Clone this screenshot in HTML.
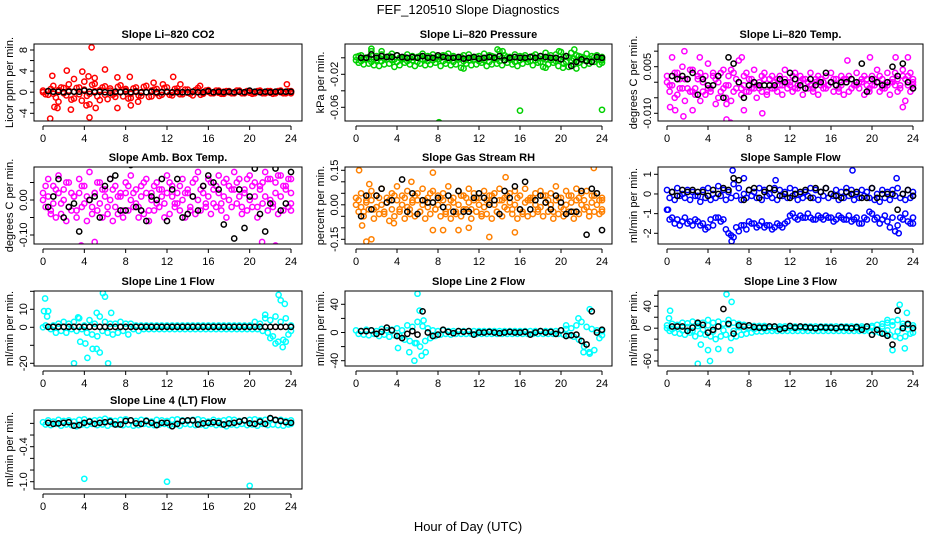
<!DOCTYPE html>
<html><head><meta charset="utf-8"><style>
html,body{margin:0;padding:0;background:#fff}
svg{display:block;font-family:"Liberation Sans",Arial,sans-serif}
</style></head><body>
<svg id="chart" width="936" height="540" viewBox="0 0 936 540">
<text x="468" y="14" text-anchor="middle" font-size="13">FEF_120510  Slope Diagnostics</text>
<text x="468" y="531" text-anchor="middle" font-size="13">Hour of Day (UTC)</text>
</svg>
<script>
const hours=[0,0.5,1,1.5,2,2.5,3,3.5,4,4.5,5,5.5,6,6.5,7,7.5,8,8.5,9,9.5,10,10.5,11,11.5,12,12.5,13,13.5,14,14.5,15,15.5,16,16.5,17,17.5,18,18.5,19,19.5,20,20.5,21,21.5,22,22.5,23,23.5,24];
const xTicks=[0,4,8,12,16,20,24];

// Panel 1: CO2
const co2A=[0.3,-0.5,1.2,-1.8,0.8,1.5,-1.2,0.9,2.0,-2.3,1.6,-1.5,1.1,0.7,-0.9,1.3,0.6,-1.1,0.9,-0.7,1.2,-0.8,0.6,-0.5,0.9,-0.6,0.7,-0.4,0.5,-0.6,0.8,-0.3,0.4,-0.2,0.3,-0.3,0.2,-0.2,0.3,-0.2,0.2,-0.2,0.3,-0.2,0.2,-0.2,0.3,-0.2,0.2];
const co2B=[-0.4,0.6,-1.0,0.9,-0.6,-1.4,0.8,-1.6,-0.7,1.4,-0.8,0.9,-1.3,-0.5,1.0,-0.8,-1.2,0.7,-0.6,1.0,-0.9,0.5,-0.7,0.8,-0.5,0.6,-0.4,0.5,-0.3,0.4,-0.5,0.3,-0.2,0.3,-0.3,0.2,-0.2,0.3,-0.2,0.2,-0.3,0.2,-0.2,0.2,-0.3,0.2,-0.2,0.2,-0.2];
const co2C=[0.0,0.2,-0.3,0.4,-0.2,0.3,0.1,-0.4,0.5,-0.3,0.2,0.4,-0.5,0.3,-0.2,0.1,0.3,-0.3,0.2,-0.1,0.0,0.3,-0.2,0.1,0.0,-0.1,0.2,0.0,-0.1,0.1,0.0,-0.1,0.1,0.0,-0.1,0.1,0.0,-0.1,0.1,0.0,-0.1,0.0,0.1,0.0,-0.1,0.1,0.0,0.0,0.1];
const co2K=[0.2,0.1,0.1,0.0,0.1,0.1,0.1,0.3,0.1,0.0,0.1,0.0,-0.1,0.1,0.0,0.1,0.0,0.1,0.0,0.0,0.1,0.0,0.0,0.1,0.0,0.0,0.0,0.0,0.1,0.0,0.0,0.2,0.0,0.1,0.0,0.1,0.0,0.1,0.0,0.3,0.1,0.0,0.1,0.0,0.1,0.1,0.1,0.1];
const co2OutX=[0.7,0.9,2.3,3.8,4.7,4.5,6.0,4.4,2.7,1.4,7.2,7.2,8.4,12.6,23.6,5.1,1.1,4.2,3,5,8.5,10.7,11.6,13.3,15.2,9.2];
const co2OutY=[-5,3.1,4.1,3.9,8.5,-4.8,4.3,3.0,-3.3,-3,-3,2.8,2.9,2.9,1.5,-3,-2.8,-2.5,2.5,2.7,-2.5,1.8,1.5,1.5,1.2,-1.8];
const co2Ticks=[-4,-2,0,2,4,6,8];
const co2Labels=["-4","0","4","8"];

// Panel 2: Pressure
const presA=[0.001,0.003,0.000,0.008,0.002,0.004,0.001,0.005,0.003,0.000,0.004,0.002,0.001,0.005,0.002,0.004,0.001,0.003,0.005,0.002,0.000,0.003,0.004,0.001,0.002,0.005,0.003,0.001,0.008,0.003,0.001,0.004,0.002,0.003,0.001,0.004,0.002,0.006,0.003,0.004,0.007,0.002,0.006,0.003,0.001,0.005,0.002,0.003,0.001];
const presB=[-0.006,-0.008,-0.007,-0.009,-0.010,-0.008,-0.007,-0.011,-0.009,-0.006,-0.008,-0.010,-0.007,-0.009,-0.008,-0.006,-0.010,-0.007,-0.009,-0.008,-0.012,-0.007,-0.009,-0.008,-0.006,-0.010,-0.008,-0.007,-0.009,-0.006,-0.008,-0.010,-0.007,-0.005,-0.009,-0.006,-0.011,-0.008,-0.006,-0.010,-0.007,-0.011,-0.008,-0.006,-0.009,-0.007,-0.005,-0.008,-0.006];
const presC=[-0.003,-0.004,-0.002,-0.005,-0.003,-0.004,-0.002,-0.003,-0.005,-0.002,-0.004,-0.003,-0.005,-0.002,-0.004,-0.003,-0.002,-0.004,-0.003,-0.005,-0.002,-0.004,-0.003,-0.002,-0.004,-0.003,-0.005,-0.002,-0.004,-0.003,-0.002,-0.005,-0.003,-0.002,-0.004,-0.003,-0.005,-0.002,-0.003,-0.004,-0.002,-0.005,-0.003,-0.004,-0.002,-0.003,-0.004,-0.002,-0.003];
const presD=[0.002,-0.001,0.001,-0.002,0.000,-0.001,0.002,-0.002,0.000,0.001,-0.001,0.000,0.002,-0.002,0.001,-0.001,0.000,0.002,-0.001,0.000,0.001,-0.002,0.000,0.001,-0.001,0.000,0.002,-0.001,0.000,0.001,-0.002,0.000,0.001,-0.001,0.002,0.000,-0.001,0.001,0.000,-0.002,0.001,0.000,-0.001,0.002,0.000,-0.001,0.001,0.000,-0.002];
const presK=[0.000,0.000,0.004,0.000,0.002,0.001,0.001,0.003,0.001,0.000,0.001,0.000,0.002,0.000,0.000,0.003,0.001,0.000,0.000,0.001,-0.001,0.000,0.001,-0.001,0.000,0.001,0.000,0.002,-0.003,0.000,0.001,0.000,0.000,0.001,0.000,0.002,0.001,0.000,0.000,-0.002,0.002,-0.010,-0.005,-0.002,-0.004,-0.005,0.001,0.000];
const presOutX=[8.1,16,24,1.5,13.8,14.3,10.5,21.5,18.5,20.2,2.5,19.8,21.3];
const presOutY=[-0.078,-0.064,-0.063,0.011,0.010,0.008,-0.013,-0.013,-0.012,-0.012,0.008,0.008,0.010];
const presTicks=[-0.06,-0.04,-0.02,0];
const presLabels=["-0.06","-0.02"];

// Panel 3: Li-820 Temp
const tempA=[0.000,0.002,-0.004,0.005,-0.002,0.004,0.001,-0.003,0.006,0.002,-0.005,0.004,-0.001,0.003,0.007,0.002,-0.003,0.004,-0.002,0.003,0.001,-0.002,0.002,0.004,-0.001,0.003,0.002,-0.002,0.003,0.001,-0.001,0.002,0.003,-0.001,0.002,0.001,-0.002,0.003,0.001,-0.001,0.002,0.004,-0.002,0.003,0.001,-0.003,0.004,0.002,0.001];
const tempB=[-0.003,-0.005,0.001,-0.006,-0.003,-0.002,-0.006,-0.004,-0.002,-0.007,-0.003,-0.005,-0.006,-0.002,-0.004,-0.003,-0.002,-0.005,-0.003,-0.004,-0.002,-0.003,-0.004,-0.002,-0.003,-0.001,-0.004,-0.002,-0.003,-0.004,-0.002,-0.001,-0.003,-0.002,-0.004,-0.003,-0.001,-0.002,-0.004,-0.002,-0.001,-0.003,-0.002,-0.004,-0.001,-0.002,-0.006,-0.003,-0.002];
const tempC=[0.002,-0.001,0.003,-0.002,0.001,-0.003,0.002,0.000,-0.002,0.003,0.000,-0.002,0.002,-0.003,0.000,-0.001,0.001,-0.002,0.000,0.001,-0.001,0.000,-0.001,0.001,0.000,-0.002,0.000,0.001,-0.001,0.000,0.001,-0.002,0.000,0.001,-0.001,0.000,0.001,-0.001,0.000,0.001,-0.001,0.000,0.001,-0.001,0.000,0.001,0.002,-0.001,0.000];
const tempD=[-0.001,0.003,-0.002,0.001,0.004,-0.004,0.003,0.002,-0.003,0.001,0.003,-0.001,0.004,0.001,-0.002,0.003,0.001,-0.001,0.002,-0.003,0.002,0.001,-0.001,0.000,0.002,-0.002,0.001,0.000,-0.002,0.002,0.000,-0.001,0.001,-0.003,0.001,0.002,-0.001,0.000,0.002,-0.003,0.001,0.002,-0.001,0.000,0.003,-0.001,0.001,0.003,-0.001];
const tempK=[0.002,0.001,0.002,0.001,0.003,-0.004,0.001,-0.001,-0.001,0.002,-0.005,0.008,0.006,0.000,-0.005,-0.001,0.000,-0.001,-0.001,-0.001,-0.001,0.001,0.000,0.003,0.001,-0.001,-0.002,0.001,-0.001,0.000,0.003,0.000,-0.001,0.000,0.000,0.001,0.000,0.006,-0.003,0.001,0.000,-0.001,0.000,0.005,0.002,0.006,0.000,-0.002];
const tempOutX=[1.6,1.7,0.3,0.8,5.8,6.2,9.3,3.2,0.5,7.3,17.6,19.8,22.3,23.5,23,5.8,7.5,2.5];
const tempOutY=[-0.011,0.010,-0.008,-0.009,-0.012,-0.013,-0.010,0.008,0.008,0.008,0.007,0.008,0.008,0.008,-0.008,-0.007,-0.009,-0.009];
const tempTicks=[-0.010,-0.005,0,0.005,0.010];
const tempLabels=["-0.010","0.005"];

// Panel 4: Amb. Box Temp
const ambA=[0.02,0.06,0.04,0.07,0.03,0.05,0.01,0.06,0.04,0.08,0.02,0.05,0.03,0.06,0.04,0.02,0.05,0.07,0.03,0.04,0.06,0.02,0.05,0.03,0.07,0.04,0.02,0.06,0.03,0.05,0.08,0.04,0.06,0.03,0.07,0.05,0.04,0.08,0.06,0.03,0.07,0.05,0.04,0.08,0.06,0.05,0.07,0.04,0.06];
const ambB=[-0.02,-0.04,-0.05,-0.01,-0.06,-0.03,-0.05,-0.02,-0.06,-0.04,-0.03,-0.05,-0.02,-0.06,-0.04,-0.05,-0.03,-0.02,-0.05,-0.04,-0.06,-0.03,-0.02,-0.05,-0.04,-0.01,-0.03,-0.05,-0.02,-0.04,-0.03,-0.01,-0.04,-0.02,-0.03,-0.05,-0.02,-0.01,-0.04,-0.03,-0.02,-0.05,-0.01,-0.03,-0.02,-0.04,-0.03,-0.02,-0.03];
const ambC=[0.00,0.01,-0.01,0.02,0.00,-0.02,0.01,0.02,-0.01,0.00,0.02,-0.01,0.01,0.00,-0.02,0.01,0.02,0.00,-0.01,0.01,0.02,0.00,-0.01,0.01,0.02,0.01,-0.01,0.00,0.02,0.01,0.00,0.02,0.01,-0.01,0.02,0.01,0.00,0.03,0.01,0.02,0.00,0.01,0.03,0.01,0.00,0.02,0.01,0.03,0.02];
const ambD=[0.04,-0.03,0.03,-0.04,0.05,0.02,-0.03,0.04,0.01,-0.02,0.05,0.03,-0.04,0.03,0.01,-0.03,0.04,0.02,-0.02,0.05,-0.03,0.04,0.03,-0.01,0.05,-0.02,0.04,0.02,-0.03,0.06,0.03,-0.02,0.05,0.04,-0.01,0.06,0.03,0.05,-0.02,0.06,0.04,-0.02,0.05,0.06,-0.01,0.07,0.04,0.06,-0.01];
const ambK=[-0.02,0.01,0.06,-0.05,-0.02,-0.01,-0.09,0.11,0.00,0.01,-0.05,0.04,0.06,0.07,-0.03,-0.03,0.10,-0.02,-0.03,-0.06,0.01,0.00,0.06,-0.06,0.03,0.06,-0.05,-0.04,0.01,-0.03,0.04,0.07,0.05,0.03,-0.07,0.12,-0.11,0.03,-0.08,0.01,0.09,-0.04,-0.09,-0.01,0.09,-0.03,-0.01,0.08];
const ambOutX=[11.2,9.8,8.8,6.6,3.7,22.5,23.3,18.6,13.5,5,21.2];
const ambOutY=[-0.24,-0.17,-0.14,-0.15,-0.13,-0.13,0.17,-0.16,-0.17,-0.12,-0.12];
const ambTicks=[-0.10,-0.05,0,0.05];
const ambLabels=["-0.10","0.00"];

// Panel 5: Gas Stream RH
const rhA=[0.03,0.05,0.02,0.06,0.04,0.07,0.03,0.05,0.08,0.04,0.06,0.02,0.05,0.07,0.03,0.06,0.04,0.05,0.08,0.03,0.06,0.04,0.07,0.05,0.03,0.06,0.04,0.05,0.07,0.03,0.05,0.06,0.04,0.07,0.03,0.05,0.06,0.04,0.05,0.08,0.03,0.06,0.04,0.07,0.05,0.06,0.04,0.05,0.03];
const rhB=[-0.03,-0.05,-0.02,-0.06,-0.04,-0.03,-0.07,-0.05,-0.02,-0.06,-0.04,-0.05,-0.03,-0.06,-0.04,-0.02,-0.05,-0.03,-0.06,-0.04,-0.05,-0.02,-0.06,-0.03,-0.05,-0.04,-0.06,-0.03,-0.05,-0.02,-0.04,-0.06,-0.03,-0.05,-0.04,-0.02,-0.05,-0.03,-0.06,-0.04,-0.05,-0.03,-0.06,-0.04,-0.02,-0.05,-0.03,-0.04,-0.02];
const rhC=[0.00,-0.01,0.01,0.02,-0.01,0.00,0.01,-0.02,0.02,0.00,-0.01,0.01,0.02,0.00,-0.01,0.01,0.00,0.02,-0.01,0.01,0.00,-0.02,0.01,0.02,0.00,-0.01,0.01,0.00,0.02,-0.01,0.01,0.00,-0.02,0.01,0.02,0.00,-0.01,0.01,0.00,0.02,-0.01,0.00,0.01,0.02,0.00,-0.01,0.01,0.00,0.02];
const rhD=[0.02,-0.03,0.04,-0.02,0.03,-0.04,0.02,0.04,-0.03,0.03,-0.02,0.04,-0.03,0.02,0.05,-0.02,0.03,-0.04,0.02,-0.03,0.04,0.03,-0.02,0.03,-0.04,0.02,0.04,-0.03,0.02,0.04,-0.02,0.03,-0.04,0.02,0.03,-0.03,0.04,0.02,-0.03,0.03,-0.02,0.04,-0.03,0.03,0.02,-0.03,0.04,0.02,-0.03];
const rhK=[-0.05,0.04,-0.02,0.04,0.07,0.01,0.02,-0.21,0.11,-0.03,0.05,-0.04,0.02,0.01,0.01,0.03,-0.01,0.04,-0.03,0.06,-0.03,-0.03,0.03,0.05,0.03,0.00,0.02,-0.04,0.06,0.03,0.08,-0.02,0.10,-0.02,0.02,0.04,0.01,-0.02,0.04,0.01,-0.04,-0.03,-0.03,0.06,-0.13,0.07,0.05,-0.11];
const rhOutX=[0.3,1.0,1.5,7.5,7.5,8.5,10,11,13,15.5,23.2,14.6,3.7,0.6,1.3,5.4];
const rhOutY=[0.15,-0.16,-0.15,0.14,-0.11,-0.11,-0.11,-0.10,-0.14,-0.12,0.16,0.12,-0.08,-0.09,0.09,0.10];
const rhTicks=[-0.15,-0.10,-0.05,0,0.05,0.10,0.15];
const rhLabels=["-0.15","0.00","0.15"];

// Panel 6: Sample Flow
const sfA=[0.2,0.1,0.3,0.0,0.2,0.1,-0.1,0.2,0.3,0.0,0.4,0.2,0.1,0.5,0.3,0.0,0.2,0.1,0.3,0.2,0.0,0.3,0.2,0.1,0.3,0.2,0.0,0.1,0.3,0.2,0.1,0.3,0.0,0.2,0.1,0.3,0.2,0.0,0.2,0.1,0.3,0.0,0.2,0.1,0.2,0.3,0.0,0.2,0.1];
const sfB=[-0.2,-0.3,-0.1,-0.2,-0.3,-0.1,-0.4,-0.2,-0.3,-0.2,-0.1,-0.3,-0.2,-0.1,-0.3,-0.2,-0.1,-0.2,-0.3,-0.1,-0.2,-0.3,-0.1,-0.2,-0.1,-0.3,-0.2,-0.1,-0.2,-0.3,-0.1,-0.2,-0.1,-0.3,-0.2,-0.1,-0.3,-0.2,-0.1,-0.2,-0.3,-0.4,-0.2,-0.3,-0.1,-0.2,-0.3,-0.2,-0.1];
const sfC=[-0.8,-1.2,-1.3,-1.4,-1.5,-1.6,-1.4,-1.5,-1.7,-1.6,-1.2,-1.3,-2.0,-2.2,-1.9,-1.6,-1.4,-1.5,-1.6,-1.7,-1.6,-1.7,-1.6,-1.5,-1.1,-1.2,-1.1,-1.2,-1.2,-1.3,-1.2,-1.1,-1.2,-1.3,-1.2,-1.3,-1.4,-1.2,-1.5,-1.3,-1.0,-1.2,-1.3,-1.4,-1.2,-1.6,-1.3,-1.4,-1.5];
const sfD=[-1.3,-1.5,-1.6,-1.2,-1.4,-1.3,-1.6,-1.8,-1.3,-1.2,-1.4,-1.8,-2.1,-1.7,-1.6,-1.8,-1.5,-1.7,-1.4,-1.6,-1.8,-1.5,-1.7,-1.4,-1.0,-1.3,-1.2,-1.0,-1.3,-1.1,-1.3,-1.2,-1.4,-1.1,-1.3,-1.1,-1.3,-1.5,-1.2,-0.9,-1.3,-1.5,-1.1,-1.7,-1.9,-1.2,-1.0,-1.5,-1.2];
const sfK=[0.1,-0.1,0.2,0.1,0.2,0.1,0.1,-0.1,0.2,0.0,0.3,0.2,0.8,0.7,-0.3,0.2,0.3,-0.2,0.1,0.3,0.2,-0.1,0.0,-0.2,0.0,0.1,0.2,-0.2,0.3,0.1,0.3,0.0,-0.1,-0.2,0.1,0.0,0.1,-0.2,-0.2,0.3,-0.2,0.0,0.0,0.0,-0.8,0.0,0.2,-0.1];
const sfOutX=[6.4,18.1,6.3,22.6,0.1,7.5,10.6,22.4];
const sfOutY=[1.2,1.2,-2.4,-2.0,-0.8,0.8,0.7,0.8];
const sfTicks=[-2,-1,0,1];
const sfLabels=["-2","-1","0","1"];

// Panel 7: Line 1 Flow
const l1A=[0,9,1,2,3,2,3,5,1,4,2,6,3,2,2,3,2,2,1,1,1,1,1,1,1,1,1,1,1,1,1,1,1,1,1,1,1,1,1,1,1,3,2,5,4,6,3,5,1];
const l1B=[1,-1,-3,-2,-3,-1,-2,-1,-3,-4,-5,-2,-3,-4,-3,-2,-4,-1,-2,-1,-1,-1,-1,-1,-1,-1,-1,-1,-1,-1,-1,-1,-1,-1,-1,-1,-1,-1,-1,-1,-1,-1,-2,-3,-5,-8,-7,-4,-2];
const l1K=[0.2,0.2,0.2,0.2,0.2,0.2,0.2,0.2,0.2,0.2,0.2,0.2,0.2,0.2,0.2,0.2,0.2,0.2,0.2,0.2,0.2,0.2,0.2,0.2,0.2,0.2,0.2,0.2,0.2,0.2,0.2,0.2,0.2,0.2,0.2,0.2,0.2,0.2,0.2,0.2,0.2,0.2,0.2,0.2,0.2,0.2,0.2,0.2];
const l1OutX=[0.2,0.1,0.4,3,3.4,3.6,4.1,4.3,4.8,5.2,5.5,5.8,6,6.3,6.6,5.2,22.8,23,23.4,23.2,22.5,23.5,21.5,22];
const l1OutY=[16,9,6,-20,5.5,-8,-9,-17,-12,-12,-14,19,17,-20,8,8,18,15,13,-11,-9,-8,7,-6];
const l1Ticks=[-20,-10,0,10,20];
const l1Labels=["-20","0","10"];

// Panel 8: Line 2 Flow
const l2A=[3,2,4,3,2,5,3,4,6,3,10,8,15,9,6,3,2,3,2,2,2,2,2,2,2,2,2,2,2,2,2,2,2,2,2,2,2,2,2,2,3,5,6,10,15,8,5,3,2];
const l2B=[-2,-3,-4,-2,-5,-3,-6,-4,-5,-10,-12,-15,-20,-12,-8,-5,-3,-2,-3,-2,-2,-2,-2,-2,-2,-2,-2,-2,-2,-2,-2,-2,-2,-2,-2,-2,-2,-2,-2,-2,-3,-4,-6,-10,-20,-28,-25,-8,-4];
const l2K=[2,2,3,-2,1,7,3,-5,-8,-2,2,-3,30,0,-5,-3,4,1,-1,2,1,2,-3,0,0,1,0,-1,0,1,0,0,1,-3,0,2,0,1,-2,3,-5,-4,-3,-12,-17,30,0,4];
const l2OutX=[6,6.2,6.6,6.8,5.7,4.1,5.2,5.9,6.4,21.7,22.8,22.2,22.8,20.5];
const l2OutY=[55,31,17,-28,-40,-22,-28,-15,-33,20,33,-28,-30,10];
const l2Ticks=[-40,-20,0,20,40];
const l2Labels=["-40","0","40"];

// Panel 9: Line 3 Flow
const l3A=[5,8,6,10,9,12,8,10,15,10,12,8,15,10,8,6,5,4,4,4,3,3,3,3,3,3,3,3,3,3,3,3,3,3,3,3,3,3,3,3,4,6,8,10,12,15,8,6,5];
const l3B=[-5,-8,-10,-12,-8,-15,-10,-12,-15,-20,-15,-12,-18,-15,-12,-10,-8,-6,-6,-5,-5,-5,-5,-5,-5,-5,-5,-5,-5,-5,-5,-5,-5,-5,-5,-5,-5,-5,-5,-5,-6,-8,-10,-12,-15,-18,-15,-10,-8];
const l3C=[0,-2,3,-4,2,-5,4,-3,5,-6,3,-4,6,-5,2,-3,1,-2,0,-1,0,-1,0,-1,0,-1,0,-1,0,-1,0,-1,0,-1,0,-1,0,-1,0,-1,1,-2,3,-4,5,-6,3,-2,1];
const l3K=[3,3,3,-5,1,10,6,-8,-3,3,35,8,-10,5,3,5,2,1,1,3,3,-2,0,4,1,3,2,1,0,2,1,1,0,2,1,0,2,-3,3,-12,-3,-10,-14,-30,32,0,8,0];
const l3OutX=[0.3,0.2,3,4.2,4,5.8,6.3,6.2,5,3.3,22.7,23.4,23.2,22,21.5];
const l3OutY=[32,18,-65,-60,-40,62,48,-40,-38,-30,43,28,-37,-40,15];
const l3Ticks=[-60,-40,-20,0,20,40,60];
const l3Labels=["-60","0","40"];

// Panel 10: Line 4 (LT) Flow
const l4A=[0.02,0.05,0.03,0.06,0.04,0.05,0.03,0.06,0.07,0.04,0.05,0.06,0.08,0.05,0.04,0.06,0.07,0.05,0.04,0.06,0.05,0.03,0.06,0.05,0.04,0.06,0.07,0.05,0.04,0.06,0.07,0.05,0.03,0.06,0.04,0.05,0.07,0.06,0.04,0.05,0.06,0.07,0.05,0.06,0.08,0.05,0.06,0.04,0.05];
const l4B=[-0.02,-0.03,-0.01,-0.04,-0.02,-0.03,-0.05,-0.02,-0.03,-0.01,-0.03,-0.02,-0.04,-0.01,-0.02,-0.03,-0.02,-0.04,-0.03,-0.01,-0.02,-0.03,-0.02,-0.01,-0.03,-0.02,-0.04,-0.01,-0.02,-0.03,-0.02,-0.04,-0.01,-0.03,-0.02,-0.05,-0.02,-0.03,-0.01,-0.03,-0.02,-0.04,-0.01,-0.03,-0.02,-0.03,-0.04,-0.02,-0.01];
const l4K=[0.01,-0.01,0.00,0.01,0.02,-0.04,-0.03,0.01,0.03,-0.01,0.01,0.02,0.03,-0.02,-0.02,0.04,0.05,0.00,-0.01,0.04,0.01,-0.03,0.01,0.01,-0.05,-0.01,0.04,0.05,0.05,-0.02,0.00,0.01,0.02,0.01,-0.02,0.00,0.01,0.03,0.05,0.00,-0.01,0.03,-0.01,0.09,0.06,0.04,0.02,0.01];
const l4OutX=[4,12,20];
const l4OutY=[-0.95,-1.0,-1.07];
const l4Ticks=[-1.0,-0.8,-0.6,-0.4,-0.2,0];
const l4Labels=["-1.0","-0.4"];

const cols=[{l:34,r:302,x0:43,x1:291},{l:345,r:612,x0:356,x1:602},{l:658,r:923,x0:667,x1:913}];
const rows=[{t:44,b:121},{t:167,b:244},{t:291,b:366},{t:410,b:489}];

const panels=[
 {id:'co2',title:'Slope Li\u2013820 CO2',ylab:'Licor ppm per min.',c:0,r:0,color:'#ff0000',series:[co2A,co2B,co2C],k:co2K,ox:co2OutX,oy:co2OutY,ticks:co2Ticks,labels:co2Labels,cal:[8,50,-4,113.3]},
 {id:'pressure',title:'Slope Li\u2013820 Pressure',ylab:'kPa per min.',c:1,r:0,color:'#00d000',series:[presA,presB,presC,presD],k:presK,ox:presOutX,oy:presOutY,ticks:presTicks,labels:presLabels,cal:[-0.02,74.3,-0.06,107.3]},
 {id:'temp',title:'Slope Li\u2013820 Temp.',ylab:'degrees C per min.',c:2,r:0,color:'#ff00ff',series:[tempA,tempB,tempC,tempD],k:tempK,ox:tempOutX,oy:tempOutY,ticks:tempTicks,labels:tempLabels,cal:[0.005,66.7,-0.010,113.3]},
 {id:'amb-temp',title:'Slope Amb. Box Temp.',ylab:'degrees C per min.',c:0,r:1,color:'#ff00ff',series:[ambA,ambB,ambC,ambD],k:ambK,ox:ambOutX,oy:ambOutY,ticks:ambTicks,labels:ambLabels,cal:[0,200,-0.10,235]},
 {id:'rh',title:'Slope Gas Stream RH',ylab:'percent per min.',c:1,r:1,color:'#ff8000',series:[rhA,rhB,rhC,rhD],k:rhK,ox:rhOutX,oy:rhOutY,ticks:rhTicks,labels:rhLabels,cal:[0.15,170.3,-0.15,239.3]},
 {id:'sample-flow',title:'Slope Sample Flow',ylab:'ml/min per min.',c:2,r:1,color:'#0000ff',series:[sfA,sfB,sfC,sfD],k:sfK,ox:sfOutX,oy:sfOutY,ticks:sfTicks,labels:sfLabels,cal:[1,174.3,-2,233.3]},
 {id:'line1-flow',title:'Slope Line 1 Flow',ylab:'ml/min per min.',c:0,r:2,color:'#00ffff',series:[l1A,l1B],k:l1K,ox:l1OutX,oy:l1OutY,ticks:l1Ticks,labels:l1Labels,cal:[10,309.3,-20,363.3]},
 {id:'line2-flow',title:'Slope Line 2 Flow',ylab:'ml/min per min.',c:1,r:2,color:'#00ffff',series:[l2A,l2B],k:l2K,ox:l2OutX,oy:l2OutY,ticks:l2Ticks,labels:l2Labels,cal:[40,304.3,-40,360.7]},
 {id:'line3-flow',title:'Slope Line 3 Flow',ylab:'ml/min per min.',c:2,r:2,color:'#00ffff',series:[l3A,l3B,l3C],k:l3K,ox:l3OutX,oy:l3OutY,ticks:l3Ticks,labels:l3Labels,cal:[40,306.3,-60,361]},
 {id:'line4-flow',title:'Slope Line 4 (LT) Flow',ylab:'ml/min per min.',c:0,r:3,color:'#00ffff',series:[l4A,l4B],k:l4K,ox:l4OutX,oy:l4OutY,ticks:l4Ticks,labels:l4Labels,cal:[-0.4,446.7,-1.0,481.7]}
];

const NS='http://www.w3.org/2000/svg';
const svg=document.getElementById('chart');
function mk(tag,attrs,parent){const e=document.createElementNS(NS,tag);for(const k in attrs)e.setAttribute(k,attrs[k]);(parent||svg).appendChild(e);return e;}
function fmt(v,labels){for(const s of labels){if(Math.abs(parseFloat(s)-v)<1e-9)return s;}return null;}

panels.forEach(p=>{
  const C=cols[p.c],R=rows[p.r];
  const xs=h=>C.x0+(h/24)*(C.x1-C.x0);
  const [v1,p1,v2,p2]=p.cal;
  const ys=v=>p1+(v-v1)*(p2-p1)/(v2-v1);
  const g=mk('g',{});
  
  
  const cp=mk('clipPath',{id:'clip-'+p.id},g);
  mk('rect',{x:C.l,y:R.t,width:C.r-C.l,height:R.b-R.t},cp);
  const title=mk('text',{x:(C.l+C.r)/2,y:R.t-6,'text-anchor':'middle','font-size':'11','font-weight':'bold'},g);
  title.textContent=p.title;
  
  
  const pts=mk('g',{'clip-path':'url(#clip-'+p.id+')'},g);
  
  
  const dot=(h,v,col)=>{const c=mk('circle',{cx:xs(h).toFixed(1),cy:ys(v).toFixed(1),r:2.6,fill:'none',stroke:col,'stroke-width':1.5},pts);
    
    };
  p.series.forEach((s,si)=>s.forEach((v,i)=>dot(Math.min(24,hours[i]+(si%2)*0.25),v,p.color)));
  p.ox.forEach((h,i)=>dot(h,p.oy[i],p.color));
  p.k.forEach((v,i)=>dot(hours[i+1],v,'#000'));
  const box=mk('rect',{x:C.l,y:R.t,width:C.r-C.l,height:R.b-R.t,fill:'none',stroke:'#000','stroke-width':1},g);
  
  
  const xa=mk('g',{},g);
  
  
  const ay=R.b+5;
  mk('line',{x1:xs(0),x2:xs(24),y1:ay,y2:ay,stroke:'#000'},xa);
  xTicks.forEach(t=>{mk('line',{x1:xs(t),x2:xs(t),y1:ay,y2:ay+4,stroke:'#000'},xa);
    const tx=mk('text',{x:xs(t),y:ay+16,'text-anchor':'middle','font-size':'11'},xa);tx.textContent=String(t);});
  const ya=mk('g',{},g);
  
  
  const lo=Math.min(...p.ticks),hi=Math.max(...p.ticks);
  mk('line',{x1:C.l,x2:C.l,y1:ys(lo),y2:ys(hi),stroke:'#000'},ya);
  p.ticks.forEach(t=>{const y=ys(t);mk('line',{x1:C.l-4,x2:C.l,y1:y,y2:y,stroke:'#000'},ya);
    const s=fmt(t,p.labels);if(s){const tx=mk('text',{x:C.l-7,y:y,'text-anchor':'middle','font-size':'11',transform:`rotate(-90 ${C.l-7} ${y})`},ya);tx.textContent=s;}});
  const yl=mk('text',{x:C.l-21,y:(R.t+R.b)/2,'text-anchor':'middle','font-size':'11',transform:`rotate(-90 ${C.l-21} ${(R.t+R.b)/2})`},g);
  yl.textContent=p.ylab;
  
  
});
</script>
</body></html>
